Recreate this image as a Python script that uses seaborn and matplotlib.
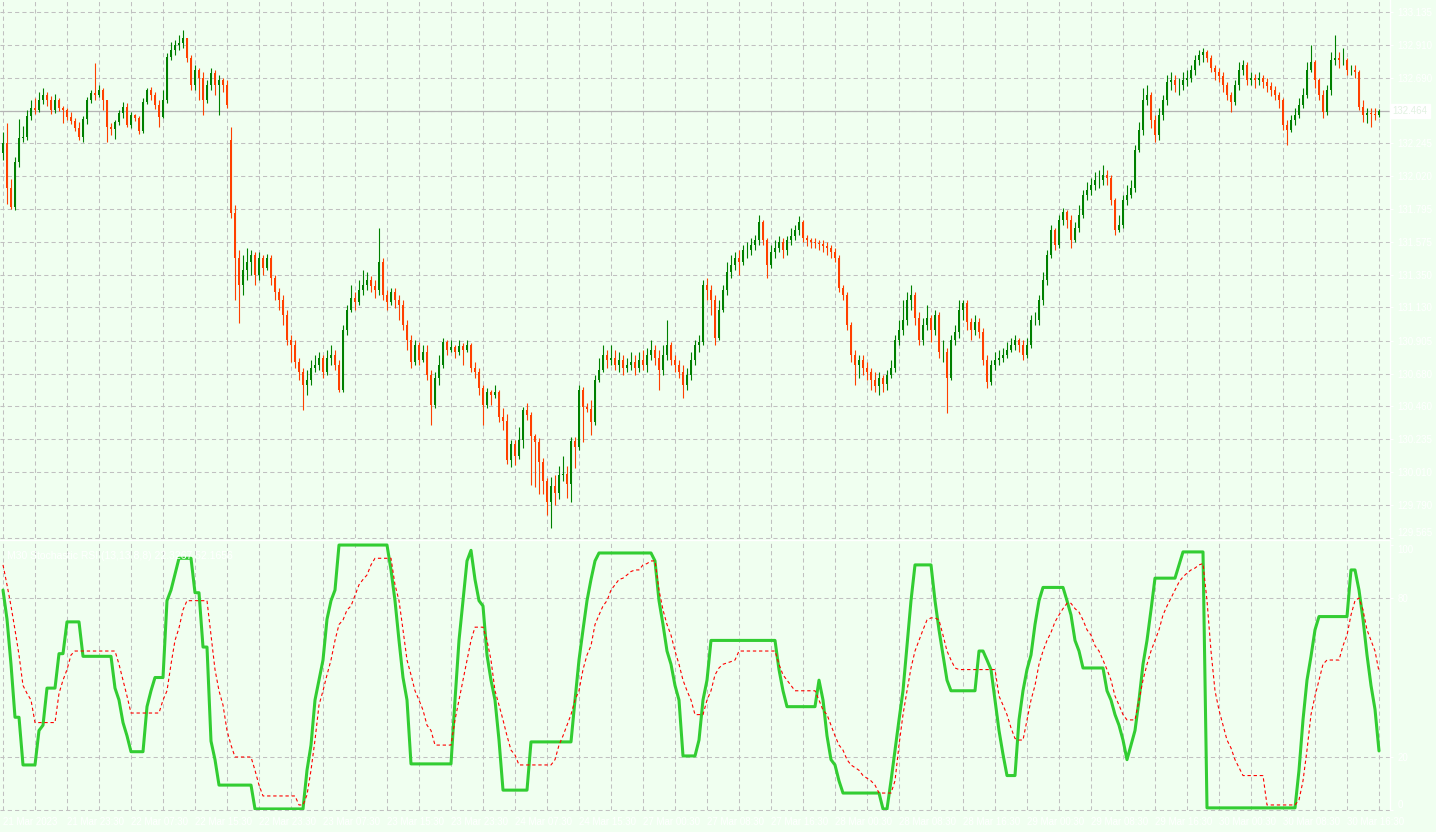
import numpy as np
import pandas as pd
import matplotlib
matplotlib.use("Agg")
import matplotlib.pyplot as plt
import seaborn as sns

# ---- price data (M30 bars) ----
first_open = 132.178
open_gaps = {57: 132.266}   # bars whose open differs from the previous close

closes = [
    132.246, 131.940, 131.811, 132.116, 132.280, 132.287, 132.428, 132.483, 132.469, 132.537,
    132.571, 132.537, 132.469, 132.537, 132.483, 132.469, 132.422, 132.395, 132.347, 132.286,
    132.408, 132.537, 132.585, 132.571, 132.605, 132.537, 132.354, 132.341, 132.388, 132.449,
    132.490, 132.368, 132.435, 132.415, 132.327, 132.524, 132.605, 132.571, 132.503, 132.422,
    132.537, 132.829, 132.877, 132.911, 132.924, 132.958, 132.822, 132.639, 132.741, 132.687,
    132.537, 132.639, 132.721, 132.639, 132.673, 132.639, 132.503, 131.771, 131.465, 131.282,
    131.384, 131.437, 131.485, 131.350, 131.465, 131.397, 131.465, 131.330, 131.234, 131.180,
    131.078, 130.908, 130.875, 130.759, 130.691, 130.603, 130.637, 130.719, 130.739, 130.787,
    130.691, 130.787, 130.807, 130.739, 130.569, 130.976, 131.112, 131.194, 131.166, 131.248,
    131.282, 131.316, 131.275, 131.248, 131.437, 131.214, 131.166, 131.234, 131.180, 131.146,
    131.010, 130.908, 130.759, 130.875, 130.773, 130.827, 130.671, 130.467, 130.651, 130.739,
    130.894, 130.841, 130.861, 130.827, 130.868, 130.841, 130.875, 130.719, 130.691, 130.583,
    130.467, 130.555, 130.535, 130.555, 130.385, 130.358, 130.094, 130.203, 130.121, 130.230,
    130.433, 130.399, 130.257, 130.216, 130.080, 129.951, 129.809, 129.917, 129.870, 129.992,
    129.999, 129.931, 130.223, 130.182, 130.569, 130.453, 130.440, 130.351, 130.637, 130.705,
    130.807, 130.773, 130.787, 130.739, 130.773, 130.719, 130.739, 130.759, 130.719, 130.773,
    130.739, 130.807, 130.841, 130.787, 130.705, 130.807, 130.875, 130.773, 130.739, 130.691,
    130.603, 130.671, 130.773, 130.875, 130.894, 131.282, 131.248, 131.180, 130.922, 131.112,
    131.248, 131.370, 131.417, 131.465, 131.437, 131.519, 131.519, 131.553, 131.587, 131.709,
    131.587, 131.417, 131.505, 131.533, 131.573, 131.519, 131.587, 131.614, 131.655, 131.709,
    131.601, 131.587, 131.573, 131.567, 131.560, 131.546, 131.533, 131.505, 131.465, 131.262,
    131.214, 131.010, 130.807, 130.739, 130.773, 130.719, 130.691, 130.637, 130.596, 130.651,
    130.610, 130.671, 130.719, 130.908, 130.976, 131.044, 131.180, 131.214, 131.058, 130.908,
    131.010, 131.058, 130.976, 131.078, 130.827, 130.827, 130.651, 130.908, 130.963, 131.112,
    131.159, 131.031, 130.976, 131.031, 130.963, 130.773, 130.624, 130.739, 130.773, 130.787,
    130.807, 130.841, 130.875, 130.908, 130.875, 130.807, 130.875, 131.044, 131.044, 131.180,
    131.316, 131.485, 131.655, 131.553, 131.723, 131.777, 131.723, 131.587, 131.669, 131.757,
    131.893, 131.926, 131.960, 131.994, 131.994, 132.028, 132.008, 131.859, 131.655, 131.689,
    131.859, 131.893, 131.940, 132.198, 132.334, 132.537, 132.571, 132.402, 132.300, 132.435,
    132.537, 132.659, 132.673, 132.639, 132.639, 132.673, 132.687, 132.741, 132.809, 132.843,
    132.863, 132.822, 132.754, 132.727, 132.700, 132.639, 132.571, 132.524, 132.639, 132.741,
    132.775, 132.673, 132.687, 132.673, 132.687, 132.659, 132.632, 132.605, 132.571, 132.537,
    132.368, 132.334, 132.402, 132.435, 132.503, 132.571, 132.741, 132.795, 132.673, 132.571,
    132.456, 132.605, 132.809, 132.822, 132.809, 132.809, 132.741, 132.741, 132.727, 132.490,
    132.435, 132.449, 132.442, 132.435, 132.463,
]

highs = [
    132.320, 132.381, 132.001, 132.150, 132.408, 132.361, 132.469, 132.537, 132.551, 132.592,
    132.619, 132.592, 132.564, 132.578, 132.551, 132.497, 132.483, 132.456, 132.415, 132.388,
    132.429, 132.558, 132.605, 132.788, 132.639, 132.619, 132.537, 132.381, 132.402, 132.469,
    132.524, 132.517, 132.456, 132.442, 132.429, 132.551, 132.619, 132.626, 132.592, 132.537,
    132.605, 132.856, 132.931, 132.945, 132.978, 133.012, 132.945, 132.843, 132.775, 132.754,
    132.727, 132.673, 132.754, 132.741, 132.707, 132.687, 132.673, 132.354, 131.825, 131.519,
    131.485, 131.533, 131.519, 131.505, 131.505, 131.485, 131.492, 131.485, 131.350, 131.262,
    131.214, 131.112, 130.942, 130.908, 130.787, 130.719, 130.705, 130.773, 130.807, 130.827,
    130.807, 130.841, 130.875, 130.841, 130.773, 131.010, 131.146, 131.282, 131.234, 131.316,
    131.384, 131.370, 131.343, 131.316, 131.669, 131.465, 131.248, 131.262, 131.262, 131.214,
    131.180, 131.044, 130.942, 130.908, 130.894, 130.875, 130.875, 130.705, 130.691, 130.807,
    130.922, 130.908, 130.908, 130.875, 130.908, 130.888, 130.908, 130.888, 130.759, 130.719,
    130.603, 130.583, 130.569, 130.603, 130.569, 130.447, 130.406, 130.230, 130.230, 130.318,
    130.453, 130.481, 130.420, 130.271, 130.243, 130.108, 129.972, 129.979, 129.992, 130.053,
    130.121, 130.053, 130.250, 130.250, 130.603, 130.590, 130.481, 130.501, 130.671, 130.787,
    130.875, 130.841, 130.875, 130.841, 130.827, 130.807, 130.787, 130.827, 130.807, 130.827,
    130.841, 130.854, 130.908, 130.875, 130.841, 130.875, 131.044, 130.894, 130.807, 130.773,
    130.739, 130.719, 130.827, 130.908, 130.942, 131.316, 131.329, 131.282, 131.214, 131.180,
    131.282, 131.438, 131.485, 131.505, 131.519, 131.553, 131.573, 131.601, 131.621, 131.757,
    131.723, 131.601, 131.553, 131.587, 131.614, 131.601, 131.614, 131.669, 131.689, 131.750,
    131.723, 131.621, 131.601, 131.601, 131.587, 131.587, 131.573, 131.553, 131.533, 131.485,
    131.282, 131.234, 131.031, 130.841, 130.807, 130.807, 130.759, 130.719, 130.691, 130.691,
    130.671, 130.705, 130.773, 130.942, 131.044, 131.180, 131.234, 131.282, 131.234, 131.098,
    131.058, 131.146, 131.078, 131.112, 131.098, 130.908, 130.854, 130.942, 131.010, 131.180,
    131.180, 131.180, 131.058, 131.078, 131.058, 130.990, 130.807, 130.773, 130.827, 130.841,
    130.854, 130.894, 130.922, 130.942, 130.922, 130.908, 130.922, 131.078, 131.098, 131.214,
    131.370, 131.519, 131.689, 131.669, 131.757, 131.804, 131.791, 131.757, 131.709, 131.825,
    131.926, 131.981, 132.008, 132.049, 132.062, 132.096, 132.062, 132.028, 131.872, 131.757,
    131.893, 131.960, 131.994, 132.232, 132.388, 132.619, 132.639, 132.592, 132.435, 132.483,
    132.571, 132.707, 132.727, 132.707, 132.687, 132.727, 132.741, 132.775, 132.843, 132.877,
    132.890, 132.877, 132.843, 132.775, 132.754, 132.727, 132.659, 132.592, 132.673, 132.795,
    132.809, 132.795, 132.727, 132.714, 132.727, 132.707, 132.687, 132.659, 132.632, 132.592,
    132.551, 132.402, 132.435, 132.483, 132.551, 132.619, 132.795, 132.911, 132.809, 132.687,
    132.605, 132.639, 132.863, 132.978, 132.863, 132.890, 132.822, 132.775, 132.775, 132.741,
    132.537, 132.483, 132.483, 132.483, 132.476,
]

lows = [
    132.130, 131.832, 131.798, 131.791, 132.083, 132.252, 132.266, 132.402, 132.442, 132.456,
    132.510, 132.497, 132.442, 132.449, 132.463, 132.381, 132.402, 132.375, 132.327, 132.266,
    132.252, 132.375, 132.517, 132.537, 132.558, 132.469, 132.252, 132.300, 132.273, 132.368,
    132.415, 132.354, 132.347, 132.395, 132.307, 132.313, 132.510, 132.537, 132.476, 132.354,
    132.415, 132.517, 132.809, 132.843, 132.877, 132.890, 132.795, 132.605, 132.605, 132.537,
    132.435, 132.517, 132.605, 132.571, 132.435, 132.592, 132.483, 131.737, 131.180, 131.024,
    131.214, 131.316, 131.350, 131.282, 131.316, 131.350, 131.384, 131.282, 131.180, 131.112,
    131.010, 130.875, 130.759, 130.719, 130.637, 130.433, 130.535, 130.603, 130.691, 130.705,
    130.651, 130.671, 130.739, 130.705, 130.555, 130.555, 130.942, 131.098, 131.112, 131.146,
    131.214, 131.248, 131.234, 131.194, 131.214, 131.180, 131.112, 131.146, 131.126, 131.044,
    130.976, 130.841, 130.719, 130.739, 130.739, 130.759, 130.637, 130.332, 130.447, 130.603,
    130.719, 130.807, 130.827, 130.787, 130.807, 130.739, 130.827, 130.691, 130.651, 130.535,
    130.332, 130.447, 130.467, 130.515, 130.352, 130.298, 130.067, 130.047, 130.060, 130.101,
    130.175, 130.365, 129.924, 129.911, 129.863, 129.863, 129.721, 129.632, 129.789, 129.830,
    129.951, 129.836, 129.809, 130.040, 130.162, 130.216, 130.420, 130.264, 130.332, 130.623,
    130.691, 130.719, 130.739, 130.705, 130.691, 130.671, 130.691, 130.705, 130.671, 130.691,
    130.705, 130.691, 130.773, 130.739, 130.569, 130.671, 130.773, 130.739, 130.691, 130.651,
    130.515, 130.569, 130.637, 130.739, 130.827, 130.875, 131.180, 131.078, 130.875, 130.908,
    131.098, 131.214, 131.329, 131.384, 131.350, 131.417, 131.465, 131.485, 131.519, 131.553,
    131.553, 131.329, 131.397, 131.465, 131.505, 131.465, 131.485, 131.553, 131.587, 131.621,
    131.573, 131.546, 131.533, 131.533, 131.519, 131.505, 131.485, 131.465, 131.438, 131.234,
    131.180, 130.976, 130.759, 130.603, 130.651, 130.671, 130.637, 130.569, 130.555, 130.535,
    130.555, 130.569, 130.651, 130.691, 130.875, 130.942, 131.010, 131.112, 131.010, 130.875,
    130.875, 130.976, 130.895, 130.942, 130.787, 130.759, 130.413, 130.637, 130.875, 130.922,
    131.044, 130.976, 130.908, 130.942, 130.922, 130.739, 130.583, 130.603, 130.705, 130.739,
    130.759, 130.787, 130.827, 130.841, 130.827, 130.773, 130.787, 130.854, 131.010, 131.010,
    131.146, 131.282, 131.465, 131.519, 131.533, 131.689, 131.669, 131.533, 131.573, 131.641,
    131.736, 131.859, 131.893, 131.926, 131.940, 131.960, 131.960, 131.825, 131.621, 131.641,
    131.669, 131.825, 131.872, 131.913, 132.184, 132.300, 132.503, 132.347, 132.252, 132.266,
    132.402, 132.503, 132.605, 132.592, 132.571, 132.605, 132.632, 132.659, 132.707, 132.775,
    132.795, 132.795, 132.727, 132.673, 132.659, 132.592, 132.537, 132.456, 132.503, 132.605,
    132.707, 132.639, 132.639, 132.619, 132.639, 132.619, 132.592, 132.564, 132.537, 132.483,
    132.334, 132.232, 132.320, 132.368, 132.415, 132.483, 132.551, 132.727, 132.619, 132.537,
    132.415, 132.435, 132.571, 132.775, 132.754, 132.775, 132.707, 132.707, 132.687, 132.469,
    132.388, 132.381, 132.354, 132.402, 132.422,
]

# ---- Stochastic RSI (13,13,8,8) ----
stoch_main = [
    83, 72, 55, 35, 35, 17, 17, 17, 17, 30,
    32, 46, 46, 46, 59, 59, 71, 71, 71, 71,
    58, 58, 58, 58, 58, 58, 58, 58, 46, 41.5,
    33, 28, 22, 22, 22, 22, 39, 45, 50, 50,
    50, 79, 83, 89, 95, 95, 95, 95, 82, 82,
    61.5, 61.5, 26, 19, 9.4, 9.4, 9.4, 9.4, 9.4, 9.4,
    9.4, 9.4, 9.4, 0.4, 0.4, 0.4, 0.4, 0.4, 0.4, 0.4,
    0.4, 0.4, 0.4, 0.4, 0.4, 0.4, 15, 24.5, 41.5, 49,
    56.6, 72, 79, 83, 100, 100, 100, 100, 100, 100,
    100, 100, 100, 100, 100, 100, 100, 90.6, 79, 64,
    50, 41.5, 17.4, 17.4, 17.4, 17.4, 17.4, 17.4, 17.4, 17.4,
    17.4, 17.4, 17.4, 41.5, 64, 79, 94, 98, 87, 79,
    77, 58.5, 49, 41.5, 26.4, 7.5, 7.5, 7.5, 7.5, 7.5,
    7.5, 7.5, 25.7, 25.7, 25.7, 25.7, 25.7, 25.7, 25.7, 25.7,
    25.7, 25.7, 25.7, 41.5, 56.6, 68, 79, 87, 94, 97,
    97, 97, 97, 97, 97, 97, 97, 97, 97, 97,
    97, 97, 97, 94, 79, 70, 60, 55, 47, 41.5,
    20.4, 20.4, 20.4, 20.4, 26.4, 41.5, 49, 64, 64, 64,
    64, 64, 64, 64, 64, 64, 64, 64, 64, 64,
    64, 64, 64, 64, 53, 45, 39, 39, 39, 39,
    39, 39, 39, 39, 49, 41.5, 28, 19, 17, 11,
    6.4, 6.4, 6.4, 6.4, 6.4, 6.4, 6.4, 6.4, 6.4, 6.4,
    0.4, 0.4, 11, 22.6, 34, 45, 62, 79, 92.5, 92.5,
    92.5, 92.5, 92.5, 79, 68, 58.5, 49, 45, 45, 45,
    45, 45, 45, 45, 60, 60, 56.6, 53, 41.5, 30,
    21, 13, 13, 13, 34, 45, 53, 58.5, 70, 79,
    84, 84, 84, 84, 84, 84, 79, 73.6, 64, 60,
    53.6, 53.6, 53.6, 53.6, 53.6, 53.6, 45, 41.5, 36, 32,
    26.4, 19, 24.5, 30, 41.5, 55, 64, 75.5, 87.5, 87.5,
    87.5, 87.5, 87.5, 87.5, 92.5, 97.4, 97.4, 97.4, 97.4, 97.4,
    97.4, 0.8, 0.8, 0.8, 0.8, 0.8, 0.8, 0.8, 0.8, 0.8,
    0.8, 0.8, 0.8, 0.8, 0.8, 0.8, 0.8, 0.8, 0.8, 0.8,
    0.8, 0.8, 0.8, 0.8, 15, 34, 49, 58, 68, 73,
    73, 73, 73, 73, 73, 73, 73, 90.6, 90.6, 83,
    72, 58.5, 47, 38, 22.3,
]

stoch_signal = [
    92.5, 85, 77, 68, 58.5, 47, 44, 41.5, 33, 33,
    33, 33, 33, 33, 44, 49, 53, 58.5, 60, 60,
    60, 60, 60, 60, 60, 60, 60, 60, 60, 55,
    49, 43, 36.6, 36.6, 36.6, 36.6, 36.6, 36.6, 36.6, 36.6,
    41.5, 45, 55, 64, 68.7, 75.5, 79, 79, 79, 79,
    79, 79, 66, 53, 45, 39.6, 30, 24.5, 20, 20,
    20, 20, 20, 15, 9.4, 5.3, 5.3, 5.3, 5.3, 5.3,
    5.3, 5.3, 5.3, 5.3, 1.9, 1.9, 5.7, 15, 26.4, 39.6,
    45, 51, 56.6, 64, 70, 71.7, 75.5, 77, 81, 85,
    87, 88.7, 92.5, 95, 95, 95, 95, 95, 85, 79,
    68, 56.6, 51, 45, 41.5, 37.7, 32, 30, 24.5, 24.5,
    24.5, 24.5, 24.5, 34, 41.5, 49, 56.6, 64, 69, 69,
    69, 64, 56.6, 45, 39.6, 34, 28, 22.6, 20.8, 17,
    17, 17, 17, 17, 17, 17, 17, 17, 19, 24.5,
    28, 32, 36, 41.5, 45, 53, 58.5, 62, 70, 73.6,
    77, 79, 83, 85, 87, 87.5, 88.7, 90, 90.6, 90.6,
    92.5, 93, 94, 94, 83, 75.5, 70, 66, 60, 55,
    49, 45, 41.5, 36, 36, 36, 41.5, 45, 51, 53.6,
    55, 55.5, 56, 56.6, 60, 60, 60, 60, 60, 60,
    60, 60, 60, 60, 55, 51, 49, 47, 45, 45,
    45, 45, 45, 45, 41.5, 37.7, 36, 32, 28, 24.5,
    22.6, 19, 17, 16, 15, 13, 12, 11, 9.4, 6.4,
    6.4, 6.4, 6.4, 11, 24.5, 36, 45, 53.6, 60, 64,
    68, 71.7, 72.5, 72.5, 71.7, 66, 60, 56.6, 53.6, 53,
    53, 53, 53, 53, 53, 53, 53, 53, 53, 43,
    39.6, 36, 31, 27, 26.4, 26.4, 34, 41.5, 47, 55,
    60, 64, 67, 71, 73.6, 76, 78, 78, 76, 74.7,
    71.7, 68, 66, 62, 60, 56.6, 53, 49, 43, 39.6,
    36, 34, 34, 34, 41.5, 49, 55, 60, 64, 68,
    73.6, 77, 80, 83, 86, 88, 89.4, 90.6, 91.3, 92.5,
    93, 79, 60, 45, 37.7, 32, 26.4, 23.4, 19, 16,
    13, 13, 13, 13, 13, 13, 1.9, 1.9, 1.9, 1.9,
    1.9, 1.9, 1.9, 1.9, 3.8, 11, 22.6, 36, 43, 49,
    55, 56.6, 56.6, 56.6, 56.6, 62, 66, 73.6, 79, 80,
    75.5, 68, 64, 60, 52.2,
]

price_ticks = [133.135, 132.910, 132.690, 132.465, 132.245, 132.020, 131.795, 131.575,
               131.350, 131.130, 130.905, 130.680, 130.460, 130.235, 130.010, 129.790, 129.565]
price_tick_labels = ["133.135", "132.910", "132.690", "", "132.245", "132.020", "131.795",
                     "131.575", "131.350", "131.130", "130.905", "130.680", "130.460",
                     "130.235", "130.010", "129.790", "129.565"]
last_price = 132.463
last_price_label = "132.464"

time_labels = ["21 Mar 2023", "21 Mar 23:30", "22 Mar 07:30", "22 Mar 15:30", "22 Mar 23:30",
               "23 Mar 07:30", "23 Mar 15:30", "23 Mar 23:30", "24 Mar 07:30", "24 Mar 15:30",
               "27 Mar 00:30", "27 Mar 08:30", "27 Mar 16:30", "28 Mar 00:30", "28 Mar 08:30",
               "28 Mar 16:30", "29 Mar 00:30", "29 Mar 08:30", "29 Mar 16:30", "30 Mar 00:30",
               "30 Mar 08:30", "30 Mar 16:30"]
osc_levels = [0, 20, 80]
osc_ticks = [0, 20, 80, 100]
osc_title = "M30 Stochastic RSI (13,13,8,8) 22.3267 52.1656"

# ---- build frames ----
n = len(closes)
assert len(highs) == n and len(lows) == n, (len(highs), len(lows), n)
assert len(stoch_main) == n and len(stoch_signal) == n, (len(stoch_main), len(stoch_signal))

opens = [first_open] + closes[:-1]
for k, v in open_gaps.items():
    opens[k] = v

bars = pd.DataFrame({"bar": np.arange(n), "open": opens, "close": closes,
                     "high": highs, "low": lows})
bars["top"] = bars[["open", "close"]].max(axis=1)
bars["bot"] = bars[["open", "close"]].min(axis=1)
bars["high"] = np.maximum(bars["high"], bars["top"])
bars["low"] = np.minimum(bars["low"], bars["bot"])
bars["up"] = bars["close"] >= bars["open"]

osc = pd.DataFrame({"bar": np.arange(n), "main": stoch_main, "signal": stoch_signal})

# ---- style ----
BG = "#F0FFF0"
GRID = "#C0C0C0"
BULL = "#008000"
BEAR = "#FF4000"
TXT = "white"

sns.set_theme(style="white")
plt.rcParams["font.family"] = ["Liberation Sans", "DejaVu Sans"]

W, H = 1436, 832
fig = plt.figure(figsize=(W / 100, H / 100), dpi=100, facecolor=BG)
ax = fig.add_axes([0, 1 - 538 / H, 1390 / W, 538 / H])
ax2 = fig.add_axes([0, 1 - 810 / H, 1390 / W, 270 / H])

xlim = (-0.75, 346.75)
grid_x = np.arange(0, n, 8)

for a in (ax, ax2):
    a.set_facecolor(BG)
    a.set_xlim(*xlim)
    for s in ("left", "top", "bottom"):
        a.spines[s].set_visible(False)
    a.spines["right"].set_color("white")
    a.spines["right"].set_linewidth(1)
    for gx in grid_x:
        a.axvline(gx, color=GRID, lw=0.75, ls=(0, (4, 3)), zorder=0)

# ---- main panel: candles ----
ax.set_ylim(129.565, 133.216)
for p in price_ticks:
    ax.axhline(p, color=GRID, lw=0.75, ls=(0, (4, 3)), zorder=0, clip_on=False)
ax.axhline(last_price, color="#B4B4B4", lw=0.9, zorder=1)

colors = np.where(bars["up"], BULL, BEAR)
ax.vlines(bars["bar"], bars["low"], bars["high"], colors=colors, lw=0.8, zorder=2)
ax.bar(bars["bar"], (bars["top"] - bars["bot"]).clip(lower=0.003), bottom=bars["bot"],
       width=0.72, color=colors, linewidth=0, zorder=3)

ax.yaxis.tick_right()
ax.set_yticks(price_ticks)
ax.set_yticklabels(price_tick_labels)
ax.tick_params(axis="y", colors=TXT, labelcolor=TXT, length=2.5, width=0.8,
               labelsize=7, pad=3, right=True, left=False)
ax.get_yticklabels()[-1].set_verticalalignment("bottom")
ax.set_xticks([])
ax.set_xlabel("")
ax.set_ylabel("")
ax.text(1.0015, last_price, last_price_label, transform=ax.get_yaxis_transform(),
        ha="left", va="center", fontsize=7, color="#E2F2E2", clip_on=False,
        bbox=dict(facecolor="white", edgecolor="white", boxstyle="square,pad=0.25"))

# ---- oscillator panel ----
ax2.set_ylim(0, 101.9)
for lv in osc_levels:
    ax2.axhline(lv, color=GRID, lw=0.75, ls=(0, (4, 3)), zorder=0, clip_on=False)

sns.lineplot(data=osc, x="bar", y="main", ax=ax2, color="#32CD32", lw=2.2,
             estimator=None, legend=False, zorder=3)
sns.lineplot(data=osc, x="bar", y="signal", ax=ax2, color="#FF0000", lw=0.8,
             linestyle=(0, (3, 2.5)), estimator=None, legend=False, zorder=4)

ax2.yaxis.tick_right()
ax2.set_yticks(osc_ticks)
ax2.set_yticklabels([str(t) for t in osc_ticks])
ax2.tick_params(axis="y", colors=TXT, labelcolor=TXT, length=2.5, width=0.8,
                labelsize=7, pad=3, right=True, left=False)
ylabs = ax2.get_yticklabels()
ylabs[0].set_verticalalignment("bottom")
ylabs[-1].set_verticalalignment("top")
ax2.set_xticks(grid_x)
ax2.set_xticklabels([time_labels[i // 2] if i % 2 == 0 and i // 2 < len(time_labels) else ""
                     for i in range(len(grid_x))])
for lab in ax2.get_xticklabels():
    lab.set_horizontalalignment("left")
ax2.tick_params(axis="x", colors=TXT, labelcolor=TXT, length=0, labelsize=7, pad=5)
ax2.set_xlabel("")
ax2.set_ylabel("")
ax2.plot([-0.75, 346.75], [101.9, 101.9], color="white", lw=1, clip_on=False, zorder=5)

fig.text(7 / W, 1 - 556 / H, osc_title, ha="left", va="center", fontsize=7.5, color=TXT)

fig.savefig("out.png", dpi=100, facecolor=BG)
